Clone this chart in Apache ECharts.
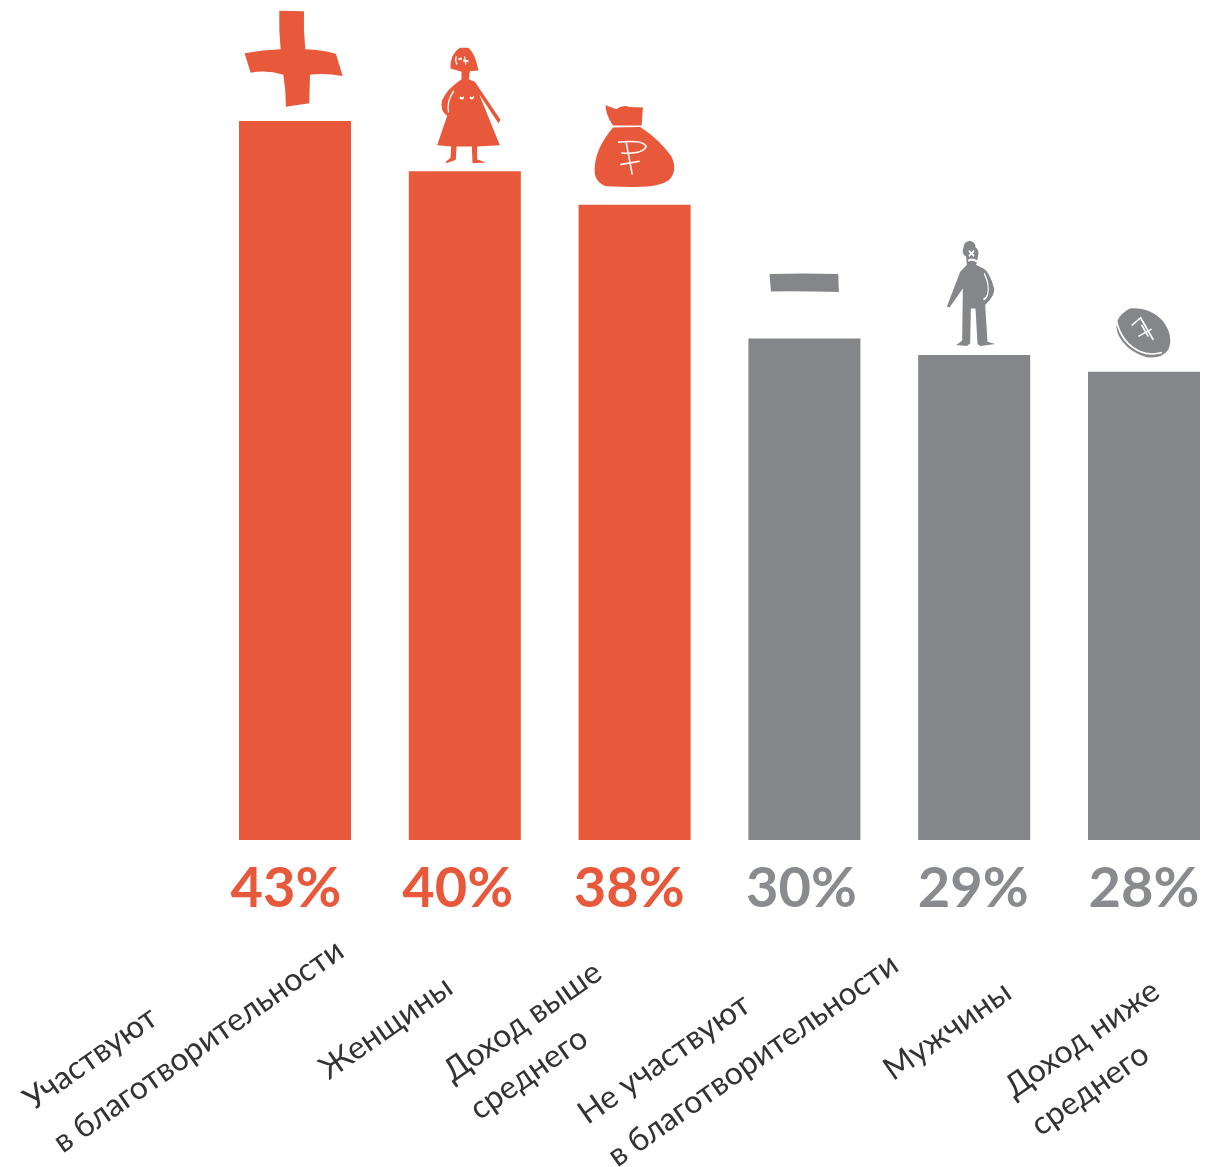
<!DOCTYPE html>
<html><head><meta charset="utf-8">
<style>html,body{margin:0;padding:0;background:#fff}#c{width:1209px;height:1167px}</style>
<script src="https://cdn.jsdelivr.net/npm/echarts@6/dist/echarts.min.js"></script>
</head><body><div id="c"></div>
<script>
const categories = ['Участвуют\nв благотворительности','Женщины','Доход выше\nсреднего','Не участвуют\nв благотворительности','Мужчины','Доход ниже\nсреднего'];
const values = [43,40,38,30,29,28];
const barColors = ['#E7593A','#E7593A','#E7593A','#85868A','#85868A','#85868A'];
const percentColors = ['#E7593A','#E7593A','#E7593A','#8A8B8E','#8A8B8E','#8A8B8E'];
const percentOffsets = [[-9,82],[-7,82],[-5.5,82],[-3,82],[-1,82],[0,82]];
const labelOffsets = [[-253,284],[-142,232],[-174.5,253.5],[-208,298],[-87,233],[-122.5,269.5]];
const labelLineHeights = [52,46,46,52,46,46];
const labelRotate = 35;

// decorative icons, drawn in local frames (3x px); frame = [x0,y0,x1,y1], anchor = frame centre relative to bar top (px)
const iconFrames = [[30,20,350,330],[610,135,825,500],[1085,305,1345,570],[50,120,275,195],[580,25,745,355],[1085,225,1275,395]];
const iconAnchors = [[-1.7,-62.7],[4.2,-66.2],[0,-59.2],[0,-56.5],[-3.2,-61.7],[-0.7,-38.7]];
const iconPaths = [
 'M148 32 L222 34 Q220 90 226 148 Q280 150 318 162 L338 228 Q285 218 240 224 L238 310 L168 320 Q168 270 160 224 Q110 208 62 218 L44 160 Q100 150 152 148 Q146 90 148 32Z',
 'M690 146 L715 146 Q735 160 746 214 L720 216 L717 240 L735 248 L812 362 L806 372 L748 285 L810 438 L742 442 L742 480 L768 490 L728 492 L726 442 L680 442 L678 482 L650 492 L648 488 L662 476 L664 442 L622 438 L652 350 Q630 335 636 305 Q650 270 695 240 L695 218 L662 208 Q660 165 690 146Z',
 'M1128 316 Q1150 325 1160 328 Q1180 315 1200 322 L1240 324 L1236 378 L1150 378 Q1128 345 1128 316Z M1150 384 L1232 382 Q1290 420 1325 470 Q1345 510 1320 540 Q1290 565 1200 562 L1130 560 Q1095 550 1095 510 Q1095 450 1150 384Z',
 'M58 134 Q160 130 264 134 L266 188 Q160 185 62 186Z',
 'M658 32 Q676 34 676 52 Q688 58 684 78 L678 105 L700 115 Q718 125 732 175 Q735 195 705 225 L712 335 L735 342 L690 348 L682 342 L676 235 L662 235 L660 340 L650 348 L618 345 L636 332 L638 175 L598 232 L590 230 L630 125 L650 105 L648 80 Q632 70 640 52 Q640 36 658 32Z',
 'M1140 236 Q1200 232 1240 275 Q1272 320 1255 360 Q1235 388 1190 382 Q1130 365 1105 315 Q1085 265 1140 236Z'
];
const iconDetails = [
 '',
 'M672 275 Q650 305 656 340 M690 294 Q696 302 702 294 M720 294 Q726 302 732 292 M680 172 Q674 182 682 196 M686 180 L696 178 M704 172 L708 196 M700 184 L716 186',
 'M1165 428 Q1240 420 1250 440 Q1240 465 1175 460 M1190 430 L1208 525 M1172 495 L1230 485',
 '',
 'M702 130 Q720 165 712 195 Q708 205 700 208 M656 62 L672 78 M672 62 L656 78 M654 92 Q666 84 680 94',
 'M1100 275 Q1115 340 1170 365 Q1200 378 1236 368 M1145 287 L1172 264 L1210 330 M1165 320 L1205 298 M1175 285 L1195 320'
];
const frameMarks = f => `M${f[0]} ${f[1]} L${f[0]} ${f[1]} M${f[2]} ${f[3]} L${f[2]} ${f[3]} `;
const iconItem = (i, path, extra) => {
  const f = iconFrames[i];
  return Object.assign({
    value: [i, values[i]],
    symbol: 'path://' + frameMarks(f) + path,
    symbolSize: [(f[2]-f[0])/3, (f[3]-f[1])/3],
    symbolOffset: iconAnchors[i]
  }, extra);
};
// ECharts turns a label's offset together with its rotation, so turn it back first
const unrotate = o => {
  const a = labelRotate * Math.PI / 180;
  return [o[0]*Math.cos(a) - o[1]*Math.sin(a), o[0]*Math.sin(a) + o[1]*Math.cos(a)];
};
const font = 'Lato, "Noto Sans", sans-serif';
const chart = echarts.init(document.getElementById('c'), null, {renderer:'canvas'});
chart.setOption({
  animation:false,
  backgroundColor:'#fff',
  grid:{left:295, right:65, top:4, height:836},
  xAxis:{type:'category', boundaryGap:false, data:categories, show:false},
  yAxis:{type:'value', min:0, max:50, show:false},
  series:[
    {type:'bar', barWidth:112, silent:true, clip:false,
     data:values.map((v,i)=>({value:v, itemStyle:{color:barColors[i]},
       label:{show:true, position:'insideBottom', formatter:v+'%', color:percentColors[i],
              fontFamily:font, fontWeight:700, fontSize:56, offset:percentOffsets[i]}}))},
    {type:'scatter', clip:false, silent:true, z:3, itemStyle:{opacity:1},
     data:categories.map((c,i)=>({value:[i,0], symbolSize:0,
       label:{show:true, position:'inside', formatter:c, rotate:labelRotate, align:'left', verticalAlign:'middle',
              color:'#333333', fontFamily:font, fontSize:32, lineHeight:labelLineHeights[i], offset:unrotate(labelOffsets[i])}}))},
    {type:'scatter', clip:false, silent:true, z:4, 
     data:values.map((v,i)=>iconItem(i, iconPaths[i], {itemStyle:{color:barColors[i], opacity:1}}))},
    {type:'scatter', clip:false, silent:true, z:5,
     data:values.map((v,i)=>iconItem(i, iconDetails[i], {itemStyle:{color:'rgba(0,0,0,0)', borderColor:'#fff', borderWidth:1.6, opacity:1}}))}
  ]
});
</script></body></html>
